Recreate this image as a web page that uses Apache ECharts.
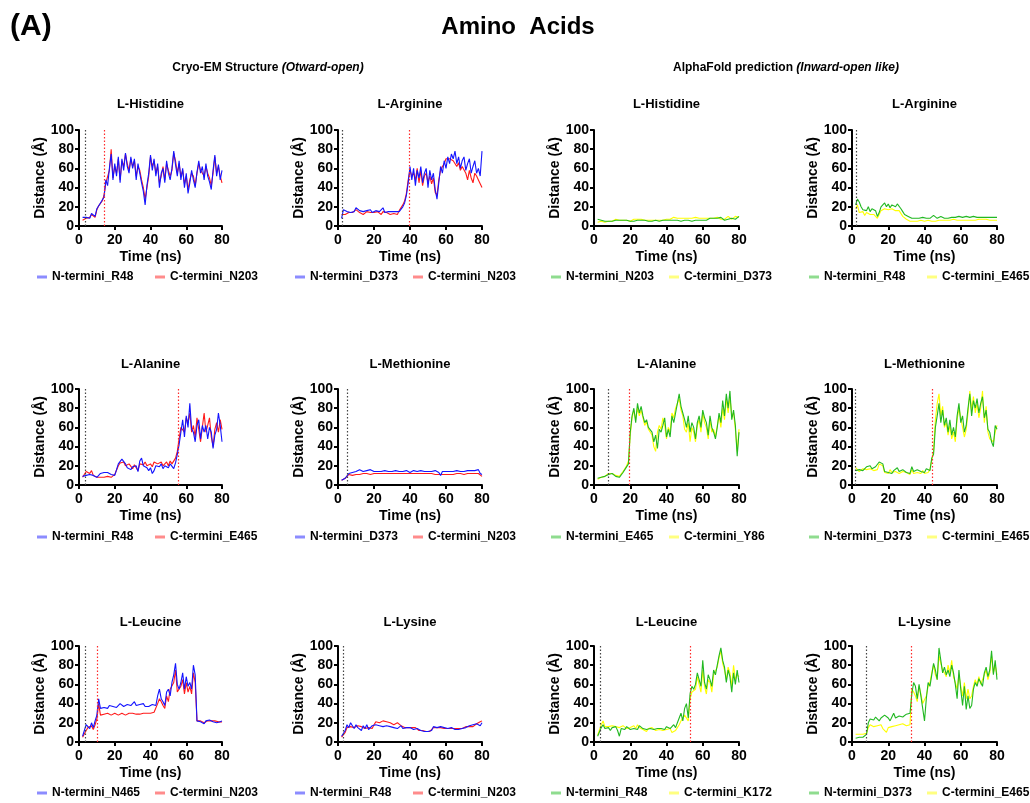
<!DOCTYPE html>
<html><head><meta charset="utf-8">
<script src="https://cdn.jsdelivr.net/npm/echarts@6/dist/echarts.min.js"></script>
<style>html,body{margin:0;padding:0;background:#fff}#c{width:1030px;height:803px}</style>
</head><body><div id="c"></div>
<script>
// ---------- shared time axis (ns) ----------
const time = [2,3,4,5,6,7,8,9,10,11,12,13,14,15,16,17,18,19,20,21,22,23,24,25,26,27,28,29,30,31,32,33,34,35,36,37,38,39,40,41,42,43,44,45,46,47,48,49,50,51,52,53,54,55,56,57,58,59,60,61,62,63,64,65,66,67,68,69,70,71,72,73,74,75,76,77,78,79,80];

// ---------- Cryo-EM panels ----------
const hisCryoN = [9,10,9,11,8,13,12,10,18,20, 24,27,30,48,42,60,75,48,65,52, 72,45,70,58,76,62,55,72,60,70, 48,65,55,45,36,22,42,55,74,58, 70,52,65,40,55,60,45,68,55,48, 60,78,64,52,68,48,60,40,55,34, 45,58,48,40,56,68,55,62,48,65, 52,46,38,58,74,52,64,48,58];
const hisCryoC = [6,7,8,10,9,12,10,9,17,21, 23,26,32,45,45,58,80,50,62,55, 70,48,68,62,75,65,58,70,62,68, 52,62,58,48,40,28,40,52,72,62, 68,55,62,45,52,62,48,65,58,52, 58,76,68,55,65,52,58,44,52,38, 48,55,52,42,55,65,58,60,52,62, 55,50,42,55,72,55,62,52,45];
const argCryoN = [8,17,16,15,17,14,16,15,19,18, 16,14,15,17,16,15,17,14,15,16, 17,15,17,19,14,16,15,14,15,14, 15,13,15,16,20,24,32,45,62,48, 60,42,58,50,62,45,55,60,40,58, 48,55,38,28,45,62,55,68,60,72, 65,75,70,78,65,72,60,68,72,58, 65,70,55,62,68,55,60,52,78];
const argCryoC = [12,14,12,13,14,12,14,13,17,15, 14,13,12,14,15,13,14,12,14,13, 15,14,12,15,13,14,13,12,14,13, 14,12,16,18,22,26,34,48,58,52, 55,48,60,45,58,42,52,55,45,52, 44,50,35,32,48,58,62,65,70,68, 70,72,68,70,62,66,58,62,60,55, 48,58,50,45,55,52,48,50,40];
const alaCryoN = [9,8,10,12,11,13,10,9,8,10, 12,11,13,12,13,12,11,13,10,9, 22,24,27,28,22,18,20,16,19,18, 20,14,25,28,20,22,18,15,18,12, 15,20,18,19,22,17,20,21,18,22, 20,17,23,32,42,55,68,50,72,60, 85,58,55,45,62,68,48,62,55,62, 48,60,55,38,52,58,75,62,45];
const alaCryoC = [8,9,14,16,12,15,10,9,8,7, 8,6,8,7,9,10,8,10,11,10, 20,23,25,24,20,18,22,20,17,21, 18,15,22,24,21,24,20,18,22,19, 24,26,22,21,24,20,22,24,20,25, 22,24,28,35,48,60,62,55,70,65, 75,55,62,50,70,58,45,60,75,55, 62,70,50,40,58,65,55,68,58];
const metCryoN = [5,6,7,9,12,14,13,15,14,13, 16,15,14,13,15,14,16,15,14,13, 14,15,14,13,15,14,14,15,14,13, 15,14,14,15,14,14,15,14,13,14, 15,14,14,13,15,14,14,15,14,13, 14,14,15,14,13,10,14,15,14,15, 14,15,14,13,15,14,14,15,14,13, 15,14,15,14,15,14,16,12,11];
const metCryoC = [5,6,7,9,11,11,10,10,11,10, 11,12,12,11,12,12,11,12,12,11, 12,12,12,11,12,12,12,11,12,12, 12,11,12,12,12,11,12,12,12,11, 12,12,12,11,12,12,12,11,12,12, 12,11,11,12,11,9,11,12,11,12, 11,12,11,12,12,11,12,12,11,12, 12,11,12,11,12,11,12,10,9];
const leuCryoN = [6,8,18,20,14,20,15,22,28,45, 35,34,36,37,35,38,36,37,38,36, 37,40,38,37,38,39,37,38,40,42, 38,37,39,38,40,37,38,37,38,39, 37,38,48,55,45,42,38,52,55,48, 62,70,82,60,55,62,72,55,68,58, 62,55,80,70,22,22,21,20,19,22, 21,23,22,21,22,20,22,21,22];
const leuCryoC = [5,6,12,15,13,17,13,18,24,40, 28,30,29,28,30,29,28,29,30,29, 28,29,30,29,28,29,30,29,30,30, 29,30,29,30,30,29,30,29,30,30, 31,30,40,45,42,38,35,48,42,55, 55,62,75,52,50,58,65,50,62,52, 58,50,72,62,22,21,22,21,20,21, 22,21,22,21,22,21,21,22,21];
const lysCryoN = [6,8,12,18,15,20,17,14,18,15, 16,12,17,14,18,13,15,17,16,18, 20,17,15,16,18,17,15,16,17,15, 16,14,16,17,14,15,15,14,15,14, 13,15,14,13,12,10,11,10,11,10, 12,16,14,15,13,16,14,15,13,14, 12,15,14,13,15,13,15,14,16,15, 16,17,15,18,17,19,18,17,20];
const lysCryoC = [5,7,10,15,17,16,17,15,16,17, 15,16,15,14,16,15,16,14,18,21, 22,20,21,22,20,21,19,20,19,18, 19,20,18,17,16,15,16,15,14,15, 14,15,14,12,11,12,11,11,12,11, 13,15,16,15,14,15,15,14,15,14, 13,14,13,14,13,14,15,14,15,16, 15,16,17,16,18,19,20,21,22];

// ---------- AlphaFold panels ----------
const hisAfN = [7,7,6,6,5,6,5,6,5,6, 6,6,6,6,6,5,6,5,5,6, 5,5,6,7,6,6,6,5,5,6, 5,6,6,6,5,6,6,5,6,6, 6,5,6,5,6,6,5,6,6,5, 6,6,5,6,6,5,6,5,6,6, 6,8,8,7,8,8,8,7,9,7, 6,5,7,5,8,6,7,9,10];
const hisAfC = [4,4,5,4,4,4,5,4,5,5, 7,7,6,7,6,6,6,6,5,6, 7,6,7,6,7,7,6,7,6,6, 6,7,6,6,6,7,6,6,7,7, 7,7,9,8,8,8,8,8,8,8, 8,9,8,8,9,8,8,9,8,8, 8,8,8,9,8,8,9,8,7,8, 7,8,10,11,7,8,10,8,9];
const argAfN = [22,28,25,20,17,18,16,20,15,18, 17,16,10,14,20,22,24,20,23,19, 22,24,20,23,21,18,15,12,12,10, 8,8,9,8,9,8,8,9,8,8, 9,8,10,11,10,8,9,10,10,8, 8,8,9,9,9,9,10,10,9,9, 9,10,9,9,9,10,9,9,9,9, 9,9,9,9,10,9,9,9,9];
const argAfC = [18,22,14,12,15,11,14,13,12,14, 12,10,8,12,16,15,18,16,17,15, 18,17,16,18,16,14,10,8,7,6, 5,5,5,6,5,5,6,5,5,5, 6,5,5,6,5,5,6,5,6,6, 6,7,6,6,7,6,6,7,6,7, 6,7,6,7,6,7,6,6,7,6, 7,6,7,6,6,7,6,7,6];
const alaAfN = [7,8,8,9,9,10,11,13,12,10, 9,11,8,10,13,16,18,22,55,72, 80,65,85,75,82,72,65,68,60,62, 55,45,52,38,58,55,62,70,50,58, 50,72,65,75,85,95,82,75,68,60, 72,55,65,60,48,65,72,60,78,70, 65,52,72,60,55,48,60,75,65,88, 72,95,80,98,68,78,62,30,55];
const alaAfC = [6,7,8,8,9,10,12,14,12,10, 10,10,9,10,14,17,20,25,52,70, 78,68,80,72,78,70,62,66,58,60, 52,40,35,55,62,58,70,62,48,60, 55,75,70,80,82,90,78,72,58,55, 65,45,60,55,45,62,68,55,75,65, 60,48,68,55,58,50,62,72,60,80, 68,90,75,92,72,75,58,35,58];
const metAfN = [15,14,16,18,15,17,19,18,20,17, 16,19,18,24,25,22,14,15,13,14, 12,15,13,18,14,12,16,14,13,15, 12,19,14,13,16,15,14,16,13,17, 16,15,28,32,60,72,85,65,78,62, 70,55,68,52,60,50,72,85,65,72, 55,62,80,95,72,88,80,90,75,85, 92,70,78,58,55,45,40,62,58];
const metAfC = [18,17,14,16,17,15,16,18,17,19, 15,17,16,22,23,20,13,13,12,16, 13,12,14,16,12,11,14,12,13,12, 11,16,12,14,13,14,12,15,12,14, 13,16,26,35,68,85,95,72,82,60, 65,52,62,48,55,45,68,80,70,68, 50,58,75,98,78,92,75,85,70,80, 98,65,82,55,48,50,45,55,62];
const leuAfN = [6,5,15,18,14,16,15,12,15,14, 16,12,6,14,15,13,16,14,13,15, 14,16,13,17,15,14,16,13,15,14, 16,13,15,14,16,14,15,13,16,15, 14,16,18,15,20,25,30,22,35,40, 25,50,58,55,60,72,65,58,85,62, 55,70,65,58,75,70,80,90,98,85, 78,62,75,68,52,72,60,75,62];
const leuAfC = [7,8,18,22,16,17,16,15,17,15, 16,14,15,16,17,15,14,16,15,16, 17,14,18,15,14,13,12,11,14,12, 15,13,12,14,13,15,12,14,13,12, 14,10,9,12,15,18,22,20,28,30, 22,45,52,50,55,68,60,52,75,58, 50,65,62,52,70,68,78,88,95,82, 75,65,78,72,58,80,65,70,68];
const lysAfN = [4,5,5,6,5,6,8,20,24,25, 23,26,24,22,25,24,28,30,25,22, 26,30,25,26,27,28,26,27,29,28, 30,50,62,58,45,60,48,35,22,45, 62,58,70,82,75,65,98,85,72,78, 70,75,68,80,72,60,45,75,55,38, 58,34,48,35,38,55,62,58,66,62, 58,72,78,68,75,95,70,85,65];
const lysAfC = [8,7,8,9,8,8,9,15,18,17, 16,18,17,16,18,14,12,10,15,17, 16,18,17,16,18,17,19,18,17,19, 18,55,52,48,42,58,50,40,38,48, 58,62,72,80,70,65,90,82,75,72, 68,80,72,85,68,62,55,70,58,48, 62,45,55,45,48,58,65,60,68,60, 62,70,75,65,72,90,72,80,70];

// ---------- panel labels ----------
const panelTitles = ['L-Histidine','L-Arginine','L-Histidine','L-Arginine','L-Alanine','L-Methionine','L-Alanine','L-Methionine','L-Leucine','L-Lysine','L-Leucine','L-Lysine'];
const nNames = ['N-termini_R48','N-termini_D373','N-termini_N203','N-termini_R48','N-termini_R48','N-termini_D373','N-termini_E465','N-termini_D373','N-termini_N465','N-termini_R48','N-termini_R48','N-termini_D373'];
const cNames = ['C-termini_N203','C-termini_N203','C-termini_D373','C-termini_E465','C-termini_E465','C-termini_N203','C-termini_Y86','C-termini_E465','C-termini_N203','C-termini_N203','C-termini_K172','C-termini_E465'];
// event markers (ns): dotted dark line and dotted red line
const eventDark = [3.7, 2.2, null, 2.2, 3.3, 5.2, 8.1, 2.0, 3.3, 3.0, 3.3, 7.7];
const eventRed  = [14.4, 39.4, null, null, 55.7, null, 19.7, 44.3, 10.2, null, 53.3, 32.7];
const xTicks = [0, 80, 20];    // min, max, interval
const yTicks = [0, 100, 20];

const nData = [hisCryoN, argCryoN, hisAfN, argAfN, alaCryoN, metCryoN, alaAfN, metAfN, leuCryoN, lysCryoN, leuAfN, lysAfN];
const cData = [hisCryoC, argCryoC, hisAfC, argAfC, alaCryoC, metCryoC, alaAfC, metAfC, leuCryoC, lysCryoC, leuAfC, lysAfC];

// ---------- layout / style ----------
const FF = '"Liberation Sans", Arial, Helvetica, sans-serif';
const colLeft = [79, 338, 594, 852];
const colWidth = [143, 144, 145, 145];
const rowTop = [130, 389, 646];
const gridH = 96;
const titleY = [104, 364, 622];
const legendY = [278, 538, 794];
const legendText1 = [52, 310, 566, 824];
const cryoCol = {n: '#1414ff', c: '#ff1a1a', nl: '#8c8cff', cl: '#ff8c8c'};
const afCol = {n: '#22b822', c: '#ffff00', nl: '#8fdc8f', cl: '#ffff80'};

const grids = [], xAxes = [], yAxes = [], series = [], legends = [];
const titles = [
  {text: '(A)', left: 10, top: 27, padding: 0, textAlign: 'left', textVerticalAlign: 'middle',
   textStyle: {fontSize: 30, fontWeight: 'bold', color: '#000', fontFamily: FF}},
  {text: 'Amino  Acids', left: 518, top: 27, padding: 0, textAlign: 'center', textVerticalAlign: 'middle',
   textStyle: {fontSize: 24, fontWeight: 'bold', color: '#000', fontFamily: FF}},
  {text: '{n|Cryo-EM Structure }{i|(Otward-open)}', left: 268, top: 68, padding: 0, textAlign: 'center', textVerticalAlign: 'middle',
   textStyle: {fontSize: 12, fontWeight: 'bold', color: '#000', fontFamily: FF,
     rich: {n: {fontSize: 12, fontWeight: 'bold', fontFamily: FF, color: '#000'}, i: {fontSize: 12, fontWeight: 'bold', fontStyle: 'italic', fontFamily: FF, color: '#000'}}}},
  {text: '{n|AlphaFold prediction }{i|(Inward-open like)}', left: 786, top: 68, padding: 0, textAlign: 'center', textVerticalAlign: 'middle',
   textStyle: {fontSize: 12, fontWeight: 'bold', color: '#000', fontFamily: FF,
     rich: {n: {fontSize: 12, fontWeight: 'bold', fontFamily: FF, color: '#000'}, i: {fontSize: 12, fontWeight: 'bold', fontStyle: 'italic', fontFamily: FF, color: '#000'}}}}
];

for (let i = 0; i < 12; i++) {
  const r = Math.floor(i / 4), c = i % 4;
  const pal = (c < 2) ? cryoCol : afCol;
  const left = colLeft[c], w = colWidth[c], top = rowTop[r];
  grids.push({left: left, top: top, width: w, height: gridH, containLabel: false});
  const axisCommon = {
    gridIndex: i, type: 'value', nameLocation: 'middle',
    nameTextStyle: {fontSize: 14, fontWeight: 'bold', color: '#000', fontFamily: FF},
    axisLine: {show: true, lineStyle: {color: '#000', width: 2}},
    axisTick: {show: true, length: 4, lineStyle: {color: '#000', width: 2}},
    axisLabel: {fontSize: 14, fontWeight: 'bold', color: '#000', fontFamily: FF},
    splitLine: {show: false}
  };
  xAxes.push(Object.assign({}, axisCommon, {min: xTicks[0], max: xTicks[1], interval: xTicks[2], name: 'Time (ns)', nameGap: 24,
    axisLabel: Object.assign({}, axisCommon.axisLabel, {margin: 7})}));
  yAxes.push(Object.assign({}, axisCommon, {min: yTicks[0], max: yTicks[1], interval: yTicks[2], name: 'Distance (Å)', nameGap: 31,
    axisLabel: Object.assign({}, axisCommon.axisLabel, {margin: 5})}));

  titles.push({text: panelTitles[i], left: left + w / 2, top: titleY[r], padding: 0, textAlign: 'center', textVerticalAlign: 'middle',
    textStyle: {fontSize: 13, fontWeight: 'bold', color: '#000', fontFamily: FF}});

  const mlData = [];
  if (eventDark[i] != null) mlData.push({xAxis: eventDark[i], lineStyle: {color: '#444', type: [1.5, 2], width: 1.2}});
  if (eventRed[i] != null) mlData.push({xAxis: eventRed[i], lineStyle: {color: '#ff2a2a', type: [1.5, 2], width: 1.2}});

  series.push({
    type: 'line', name: cNames[i], xAxisIndex: i, yAxisIndex: i, symbol: 'none', silent: true, animation: false,
    data: time.map((t, k) => [t, cData[i][k]]),
    lineStyle: {color: pal.c, width: 1.1}, itemStyle: {color: pal.c}, z: 2
  });
  series.push({
    type: 'line', name: nNames[i], xAxisIndex: i, yAxisIndex: i, symbol: 'none', silent: true, animation: false,
    data: time.map((t, k) => [t, nData[i][k]]),
    lineStyle: {color: pal.n, width: 1.1}, itemStyle: {color: pal.n}, z: 3,
    markLine: {symbol: ['none', 'none'], silent: true, animation: false, label: {show: false}, data: mlData}
  });

  const lt = legendText1[c];
  const legCommon = {top: legendY[r] - 7, padding: 0, itemWidth: 10, itemHeight: 3, icon: 'rect', selectedMode: false,
    textStyle: {fontSize: 12, fontWeight: 'bold', color: '#000', fontFamily: FF}};
  legends.push(Object.assign({}, legCommon, {left: lt - 15, data: [{name: nNames[i], itemStyle: {color: pal.nl}}]}));
  legends.push(Object.assign({}, legCommon, {left: lt + 118 - 15, data: [{name: cNames[i], itemStyle: {color: pal.cl}}]}));
}

const chart = echarts.init(document.getElementById('c'), null, {renderer: 'canvas'});
chart.setOption({
  backgroundColor: '#fff',
  animation: false,
  title: titles,
  grid: grids,
  xAxis: xAxes,
  yAxis: yAxes,
  legend: legends,
  series: series
});
</script>
</body></html>
